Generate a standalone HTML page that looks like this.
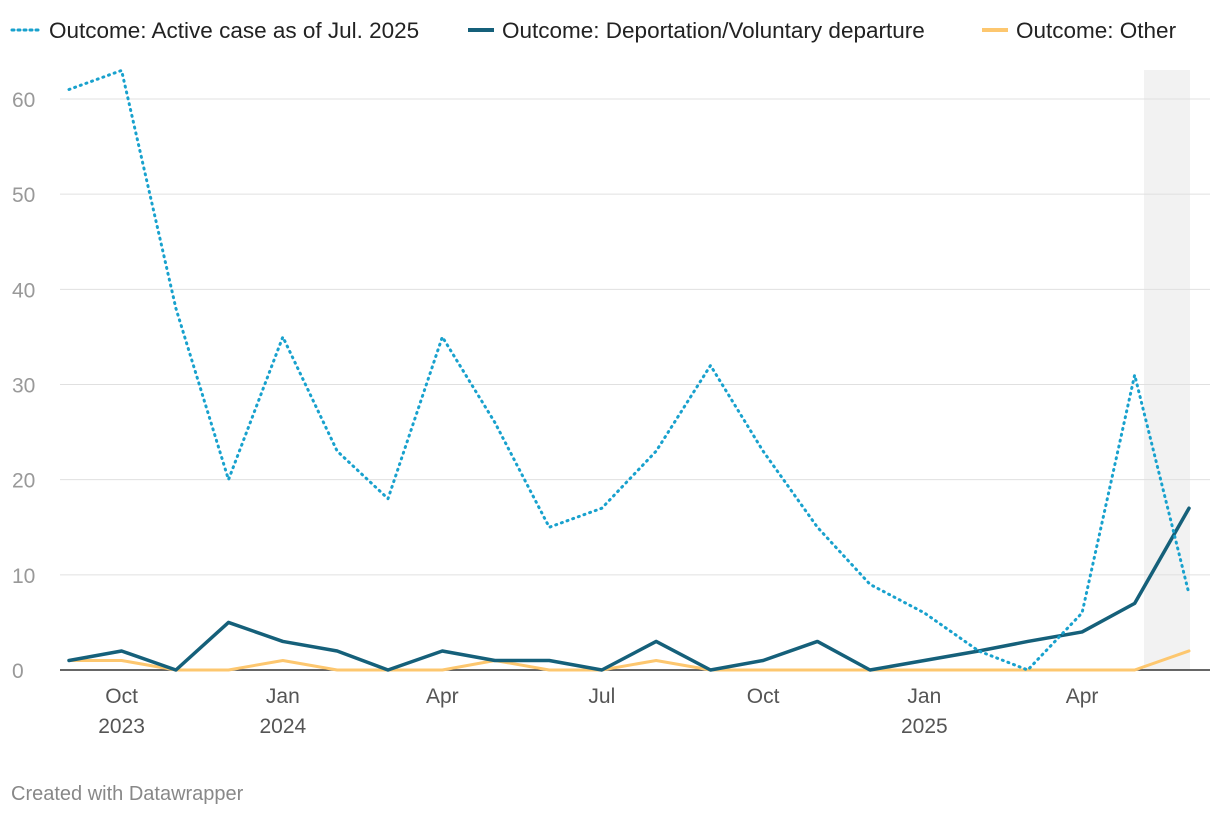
<!DOCTYPE html>
<html><head><meta charset="utf-8"><style>
body{margin:0;background:#fff;font-family:"Liberation Sans",sans-serif;}
svg text{font-family:"Liberation Sans",sans-serif;}
</style></head><body>
<svg id="chart" width="1220" height="816" viewBox="0 0 1220 816">
<g id="legend">
<g>
<line x1="12" y1="30" x2="42" y2="30" stroke="#18a1cd" stroke-width="3" stroke-dasharray="2,4" stroke-linecap="round"/>
<text x="49" y="38" font-size="22.5" fill="#222">Outcome: Active case as of Jul. 2025</text></g>
<g>
<line x1="468" y1="30" x2="494" y2="30" stroke="#15607a" stroke-width="4"/>
<text x="502" y="38" font-size="22.5" fill="#222">Outcome: Deportation/Voluntary departure</text></g>
<g>
<line x1="982" y1="30" x2="1008" y2="30" stroke="#fdc76f" stroke-width="4"/>
<text x="1016" y="38" font-size="22.5" fill="#222">Outcome: Other</text></g>
</g>
<rect x="1144" y="70" width="46" height="600" fill="#f2f2f2"/>
<g id="grid"></g><g id="series"></g><g id="xaxis"></g>
<text x="11" y="800" font-size="20" fill="#888">Created with Datawrapper</text>
</svg>
<script>
const months=["2023-09","2023-10","2023-11","2023-12","2024-01","2024-02","2024-03","2024-04","2024-05","2024-06","2024-07","2024-08","2024-09","2024-10","2024-11","2024-12","2025-01","2025-02","2025-03","2025-04","2025-05","2025-06"];
const active=[61,63,38,20,35,23,18,35,26,15,17,23,32,23,15,9,6,2,0,6,31,8];
const deportation=[1,2,0,5,3,2,0,2,1,1,0,3,0,1,3,0,1,2,3,4,7,17];
const other=[1,1,0,0,1,0,0,0,1,0,0,1,0,0,0,0,0,0,0,0,0,2];
const yTicks=[0,10,20,30,40,50,60];
const xTickIdx=[1,4,7,10,13,16,19];
const xTickLabels=[["Oct","2023"],["Jan","2024"],["Apr",""],["Jul",""],["Oct",""],["Jan","2025"],["Apr",""]];
const NS="http://www.w3.org/2000/svg";
const t0=Date.parse(months[0]+"-01"),t1=Date.parse(months[months.length-1]+"-01");
const x=i=>69+(Date.parse(months[i]+"-01")-t0)/(t1-t0)*(1189-69);
const y=v=>670-v*(670-99)/60;
function mk(t,a,p){const e=document.createElementNS(NS,t);for(const k in a)e.setAttribute(k,a[k]);p.appendChild(e);return e;}
const grid=document.getElementById('grid');
yTicks.forEach(v=>{
 const l=mk('line',{x1:60,x2:1210,y1:y(v),y2:y(v),stroke:v===0?'#333':'#e0e0e0','stroke-width':v===0?1.5:1},grid);
 
 
 const t=mk('text',{x:12,y:y(v)+8,'font-size':21,fill:'#999'},grid);t.textContent=v;
 
 
});
const xa=document.getElementById('xaxis');
xTickIdx.forEach((i,k)=>{
 const t=mk('text',{x:x(i),y:703,'font-size':21,fill:'#555','text-anchor':'middle'},xa);t.textContent=xTickLabels[k][0];
 
 
 if(xTickLabels[k][1]){const t2=mk('text',{x:x(i),y:733,'font-size':21,fill:'#555','text-anchor':'middle'},xa);t2.textContent=xTickLabels[k][1];
 
 }
});
const s=document.getElementById('series');
function line(d,col,w,dash,name){const p=mk('path',{d:d.map((v,i)=>(i?'L':'M')+x(i)+','+y(v)).join(''),fill:'none',stroke:col,'stroke-width':w,'stroke-linejoin':'round','stroke-linecap':'round'},s);
 if(dash)p.setAttribute('stroke-dasharray',dash);
 
 }
line(other,'#fdc76f',3,null,'line-other');
line(deportation,'#15607a',3.5,null,'line-deportation');
line(active,'#18a1cd',3,'1,5','line-active');
</script>
</body></html>
